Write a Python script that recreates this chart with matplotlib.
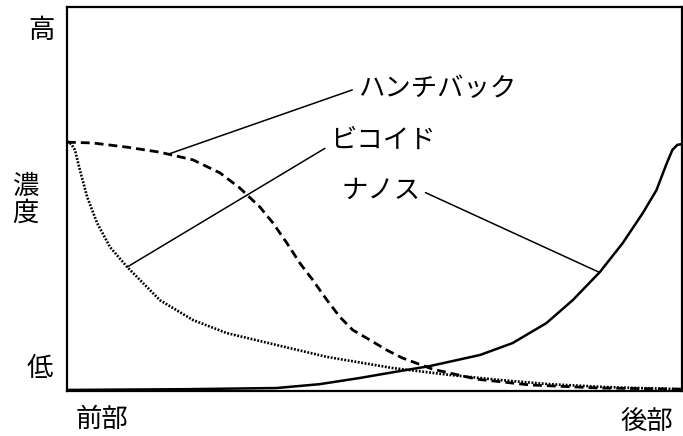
"""Morphogen gradients along the anterior-posterior axis"""
import matplotlib
matplotlib.use("Agg")
import matplotlib.pyplot as plt

plt.rcParams['font.family'] = ['Noto Sans CJK JP', 'DejaVu Sans']

# position along the embryo (0 = anterior, 100 = posterior), concentration 0-100
hb_x = [0, 4.2, 9.8, 15.1, 20.5, 24.9, 28.1, 31.4, 33.5, 35.8, 37.9, 40.0,
        42.3, 44.4, 46.5, 49.3, 52.0, 54.6, 59.5, 66.7, 75.3, 86.7, 100]
hb_y = [64.8, 64.6, 63.5, 62.2, 60.2, 56.8, 52.9, 47.9, 43.8, 38.5, 33.3,
        28.9, 23.7, 19.3, 15.9, 13.3, 10.7, 8.6, 5.7, 3.1, 1.6, 0.8, 0.5]

bcd_x = [0, 0.7, 1.3, 2.1, 3.3, 4.9, 7.0, 9.8, 12.4, 15.1, 20.5, 26.0,
         34.1, 42.3, 53.0, 62.3, 70.4, 78.5, 88.3, 100]
bcd_y = [65.1, 64.3, 62.8, 57.6, 50.5, 43.8, 37.5, 32.3, 28.1, 23.7, 18.5,
         15.1, 12.0, 8.9, 6.0, 4.2, 2.9, 1.8, 1.0, 0.5]

nos_x = [0, 19.5, 34.1, 41.1, 47.6, 54.1, 59.0, 67.2, 72.5, 78.0, 82.3,
         86.7, 90.4, 93.7, 95.9, 97.6, 98.5, 99.3, 100]
nos_y = [0.3, 0.5, 0.8, 1.8, 3.4, 5.2, 6.5, 9.4, 12.5, 17.7, 23.7, 31.0,
         38.5, 46.4, 52.3, 59.4, 62.8, 64.1, 64.3]

labels = ['ハンチバック', 'ビコイド', 'ナノス']
label_pos = [(47.3, 78.9), (42.8, 65.4), (44.6, 52.3)]
label_target = [(16.7, 61.8), (9.8, 32.3), (86.5, 31.0)]

fig = plt.figure(figsize=(6.83, 4.36), dpi=100)
ax = fig.add_axes([0.098, 0.103, 0.900, 0.881])

ax.plot(hb_x, hb_y, color='k', lw=2.0, dashes=(3.2, 1.8))
ax.plot(bcd_x, bcd_y, color='k', lw=1.9, linestyle=(0, (0.7, 0.6)))
ax.plot(nos_x, nos_y, color='k', lw=1.8, solid_joinstyle='round')

fs = 19
# hunchback / bicoid: line leaves from the left of the text
for lab, pos, tgt, rel in zip(labels[:2], label_pos[:2], label_target[:2],
                              [(0, 0.5), (0, 0.3)]):
    ax.annotate(lab, xy=tgt, xytext=pos, ha='left', va='center', fontsize=fs,
                arrowprops=dict(arrowstyle='-', color='k', lw=1.1,
                                relpos=rel, shrinkA=2, shrinkB=0))
# nanos: line leaves from the right
ax.annotate(labels[2], xy=label_target[2], xytext=label_pos[2], ha='left',
            va='center', fontsize=fs,
            arrowprops=dict(arrowstyle='-', color='k', lw=1.1,
                            relpos=(1, 0.5), shrinkA=2, shrinkB=0))

ax.set_xlim(0, 100)
ax.set_ylim(0, 100)
ax.set_xticks([])
ax.set_yticks([])
for s in ax.spines.values():
    s.set_linewidth(1.6)

ax.text(-0.042, 0.940, '高', transform=ax.transAxes, ha='center', va='center', fontsize=fs)
ax.text(-0.067, 0.497, '濃\n度', transform=ax.transAxes, ha='center', va='center',
        fontsize=fs, linespacing=1.0)
ax.text(-0.044, 0.060, '低', transform=ax.transAxes, ha='center', va='center', fontsize=fs)
ax.text(0.057, -0.073, '前部', transform=ax.transAxes, ha='center', va='center', fontsize=fs)
ax.text(0.943, -0.078, '後部', transform=ax.transAxes, ha='center', va='center', fontsize=fs)

fig.savefig('out.png', dpi=100)
